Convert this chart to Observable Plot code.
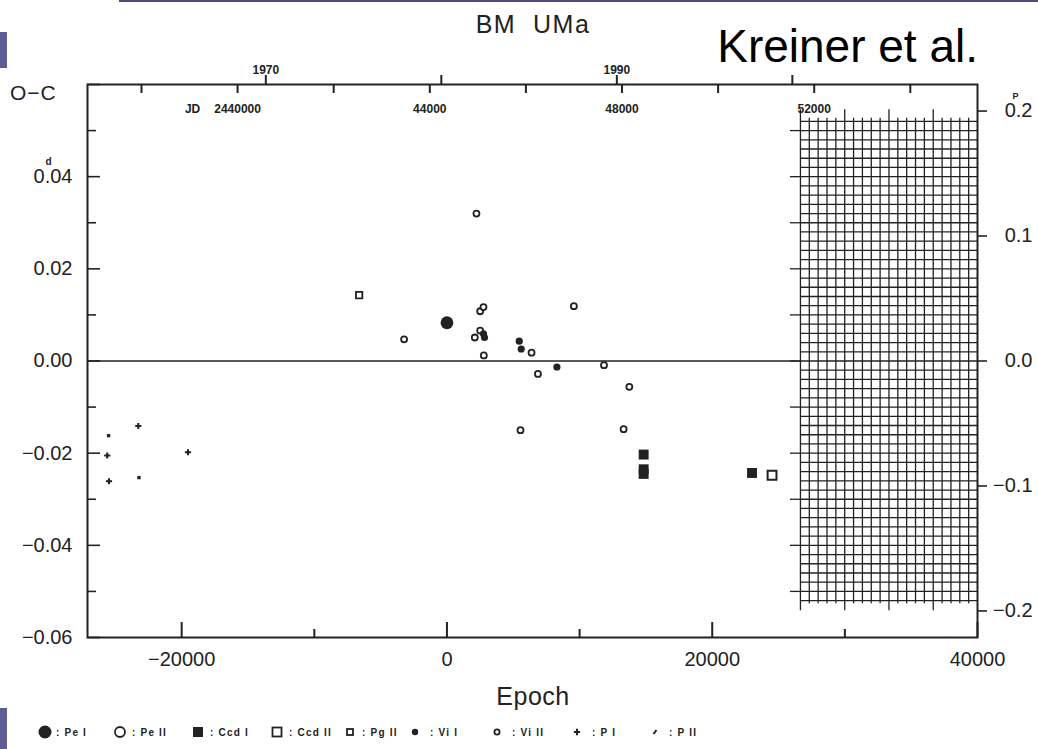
<!DOCTYPE html>
<html><head><meta charset="utf-8">
<script src="https://cdn.jsdelivr.net/npm/d3@7"></script>
<script src="https://cdn.jsdelivr.net/npm/@observablehq/plot@0.6"></script>
<style>
html,body{margin:0;padding:0;background:#fff;}
#chart{position:relative;width:1038px;height:749px;overflow:hidden;}
</style></head><body><div id="chart"></div>
<script>
// ---------- data (epoch, O-C in days) ----------
const peIEpoch = [0];
const peIOC = [0.0083];
const viIIEpoch = [-3230, 2224, 2505, 2755, 2505, 2100, 2780, 6380, 6860, 11840, 9570, 13750, 5545, 13320];
const viIIOC = [0.0047, 0.0320, 0.0108, 0.0117, 0.0066, 0.0051, 0.0012, 0.0018, -0.0028, -0.0009, 0.0119, -0.0056, -0.0150, -0.0148];
const viIEpoch = [2755, 2830, 5450, 5600, 8290];
const viIOC = [0.0059, 0.0051, 0.0043, 0.0026, -0.0013];
const pgIIEpoch = [-6620];
const pgIIOC = [0.0143];
const ccdIEpoch = [14830, 14830, 14830, 23000];
const ccdIOC = [-0.0203, -0.0235, -0.0245, -0.0243];
const ccdIIEpoch = [24510];
const ccdIIOC = [-0.0248];
const pIEpoch = [-23270, -25610, -19525, -25480];
const pIOC = [-0.0141, -0.0205, -0.0198, -0.0261];
const pIIEpoch = [-25510, -23220];
const pIIOC = [-0.0162, -0.0253];

// ---------- ticks / labels ----------
const xMajor = [-20000, 0, 20000, 40000];
const xMajorLabels = ["\u221220000", "0", "20000", "40000"];
const xMinor = [-10000, 10000, 30000];
const yMajor = [-0.06, -0.04, -0.02, 0, 0.02, 0.04, 0.06];
const yMinor = [-0.05, -0.03, -0.01, 0.01, 0.03, 0.05];
const yLabelVals = [-0.06, -0.04, -0.02, 0, 0.02, 0.04];
const yLabels = ["\u22120.06", "\u22120.04", "\u22120.02", "0.00", "0.02", "0.04"];
const phaseVals = [-0.2, -0.1, 0, 0.1, 0.2];
const phaseLabels = ["\u22120.2", "\u22120.1", "0.0", "0.1", "0.2"];
const jdTicks = [38000, 40000, 42000, 44000, 46000, 48000, 50000, 52000, 54000];
const jdLabelVals = [40000, 44000, 48000, 52000];
const jdLabels = ["2440000", "44000", "48000", "52000"];
const yearTicks = [1970, 1980, 1990, 2000];
const yearLabelVals = [1970, 1990];
const yearLabels = ["1970", "1990"];

const PERIOD = 0.2712;           // days, for phase axis
const JD0 = 44357, DPE = 0.27603; // JD-2400000 of epoch 0, days per epoch (as drawn)
const epochOfJD = jd => (jd - JD0) / DPE;
const epochOfYear = y => epochOfJD(40587.5 + (y - 1970) * 365.25);

// decorative overlay grid (right part of the frame)
const gridX0 = 26651, gridX1 = 40000;
const gridStep = (gridX1 - gridX0) / 20;
const gridCols = d3.range(21).map(i => gridX0 + i * gridStep);
const gridColsShort = gridCols.filter((d, i) => i % 5 !== 0);
const gridColsTall = gridCols.filter((d, i) => i % 5 === 0 && i < 20);
const gridRows = d3.range(-26, 27).map(i => i * 0.002);
const gridTicks = d3.range(-5, 6).map(i => i * 0.01);

const ink = "#222";
const FW = 890, FH = 553; // frame size in px

const svg = Plot.plot({
  width: 1038, height: 749,
  marginLeft: 87, marginRight: 61, marginTop: 84, marginBottom: 112,
  x: {domain: [-27100, 40000], axis: null},
  y: {domain: [-0.06, 0.06], axis: null},
  style: {fontFamily: "'Liberation Sans', Arial, sans-serif", background: "white", color: ink, overflow: "visible"},
  marks: [
    // overlay grid
    Plot.ruleX(gridColsShort, {x: d => d, y1: -0.0527, y2: 0.0527, stroke: ink, strokeWidth: 1.3}),
    Plot.ruleX(gridColsTall, {x: d => d, y1: -0.0542, y2: 0.0545, stroke: ink, strokeWidth: 1.3}),
    Plot.ruleY(gridRows, {y: d => d, x1: gridX0, x2: gridX1, stroke: ink, strokeWidth: 1.3}),
    Plot.ruleY(gridTicks, {y: d => d, x1: gridX0 - 754, x2: gridX0, stroke: ink, strokeWidth: 1.3}),
    // zero line
    Plot.ruleY([0], {x1: -27100, x2: gridX0, stroke: ink, strokeWidth: 1.5}),
    // frame + ticks
    Plot.frame({stroke: ink, strokeWidth: 2}),
    Plot.tickY(yMajor, {insetRight: FW - 13, stroke: ink, strokeWidth: 1.6}),
    Plot.tickY(yMinor, {insetRight: FW - 9, stroke: ink, strokeWidth: 1.6}),
    Plot.tickX(xMajor, {insetTop: FH - 15, stroke: ink, strokeWidth: 2}),
    Plot.tickX(xMinor, {insetTop: FH - 8, stroke: ink, strokeWidth: 2}),
    Plot.tickX(jdTicks.map(epochOfJD), {insetBottom: FH - 9, stroke: ink, strokeWidth: 2}),
    Plot.tickX(yearTicks.map(epochOfYear), {insetTop: -9, insetBottom: FH, stroke: ink, strokeWidth: 2}),
    Plot.tickY(phaseVals.map(p => p * PERIOD), {insetLeft: FW, insetRight: -10, stroke: ink, strokeWidth: 1.6}),
    // tick labels
    Plot.text(yLabelVals, {y: d => d, text: (d, i) => yLabels[i], frameAnchor: "left", textAnchor: "end", dx: -15, fontSize: 20, fill: ink}),
    Plot.text([{y: 0.04, t: "d"}], {y: "y", text: "t", frameAnchor: "left", dx: -42, dy: -15, fontSize: 10, fontWeight: "bold", fill: ink}),
    Plot.text(phaseVals, {y: d => d * PERIOD, text: (d, i) => phaseLabels[i], frameAnchor: "right", textAnchor: "end", dx: 55, fontSize: 20, fill: ink}),
    Plot.text([{y: 0.2 * PERIOD, t: "P"}], {y: "y", text: "t", frameAnchor: "right", dx: 41, dy: -15, fontSize: 9, fontWeight: "bold", fill: ink}),
    Plot.text(xMajor, {x: d => d, text: (d, i) => xMajorLabels[i], frameAnchor: "bottom", dy: 28, fontSize: 20, fill: ink}),
    Plot.text(jdLabelVals, {x: d => epochOfJD(d), text: (d, i) => jdLabels[i], frameAnchor: "top", dy: 20, fontSize: 12, fontWeight: "bold", fill: ink}),
    Plot.text([{x: epochOfJD(40000), t: "JD"}], {x: "x", text: "t", frameAnchor: "top", dy: 20, dx: -45, fontSize: 12, fontWeight: "bold", fill: ink}),
    Plot.text(yearLabelVals, {x: d => epochOfYear(d), text: (d, i) => yearLabels[i], frameAnchor: "top", dy: -19, fontSize: 12, fontWeight: "bold", fill: ink}),
    // data
    Plot.dot(pIIEpoch, {x: d => d, y: (d, i) => pIIOC[i], symbol: "square", r: 1.9, fill: ink}),
    Plot.dot(pIEpoch, {x: d => d, y: (d, i) => pIOC[i], symbol: "cross", r: 2.6, fill: ink}),
    Plot.dot(pgIIEpoch, {x: d => d, y: (d, i) => pgIIOC[i], symbol: "square", r: 3.6, fill: "white", stroke: ink, strokeWidth: 1.8}),
    Plot.dot(ccdIEpoch, {x: d => d, y: (d, i) => ccdIOC[i], symbol: "square", r: 5.6, fill: ink}),
    Plot.dot(ccdIIEpoch, {x: d => d, y: (d, i) => ccdIIOC[i], symbol: "square", r: 5, fill: "white", stroke: ink, strokeWidth: 2}),
    Plot.dot(peIEpoch, {x: d => d, y: (d, i) => peIOC[i], r: 6.4, fill: ink}),
    Plot.dot(viIIEpoch, {x: d => d, y: (d, i) => viIIOC[i], r: 3, fill: "white", stroke: ink, strokeWidth: 1.8}),
    Plot.dot(viIEpoch, {x: d => d, y: (d, i) => viIOC[i], r: 3.6, fill: ink})
  ]
});

// ---------- decorations, titles, legend ----------
const s = d3.select(svg);
const font = "'Liberation Sans', Arial, sans-serif";
s.append("rect").attr("x", 119).attr("y", 0).attr("width", 919).attr("height", 2).attr("fill", "#4d4d7d");
s.append("rect").attr("x", 0).attr("y", 32).attr("width", 7).attr("height", 36).attr("fill", "#5e5e94");
s.append("rect").attr("x", 0).attr("y", 708).attr("width", 7).attr("height", 41).attr("fill", "#5e5e94");

function txt(x, y, t, size, opts = {}) {
  const e = s.append("text").attr("x", x).attr("y", y).text(t)
    .attr("font-family", font).attr("font-size", size).attr("fill", opts.fill || ink)
    .attr("text-anchor", opts.anchor || "start");
  if (opts.weight) e.attr("font-weight", opts.weight);
  if (opts.ls) e.attr("letter-spacing", opts.ls);
  return e;
}
txt(533, 33, "BM\u00a0\u00a0UMa", 25, {anchor: "middle", ls: 1.5});
txt(978, 62, "Kreiner et al.", 46, {anchor: "end", fill: "#000"});
txt(10, 100, "O\u2212C", 21, {ls: 1});
txt(533, 705, "Epoch", 25, {anchor: "middle", ls: 0.5});

const legend = [
  {x: 45, sym: "circle", r: 6.5, fill: true, label: ": Pe I", tx: 56},
  {x: 120, sym: "circle", r: 5, fill: false, label: ": Pe II", tx: 132},
  {x: 198, sym: "square", side: 10, fill: true, label: ": Ccd I", tx: 210},
  {x: 277, sym: "square", side: 9, fill: false, label: ": Ccd II", tx: 289},
  {x: 350, sym: "square", side: 6, fill: false, label: ": Pg II", tx: 362},
  {x: 415, sym: "circle", r: 3.2, fill: true, label: ": Vi I", tx: 430},
  {x: 497, sym: "circle", r: 2.6, fill: false, label: ": Vi II", tx: 512},
  {x: 577, sym: "plus", label: ": P I", tx: 592},
  {x: 655, sym: "prime", label: ": P II", tx: 669}
];
const ly = 732;
legend.forEach(it => {
  if (it.sym === "circle") {
    s.append("circle").attr("cx", it.x).attr("cy", ly).attr("r", it.r)
      .attr("fill", it.fill ? ink : "white").attr("stroke", ink).attr("stroke-width", it.fill ? 0 : 1.8);
  } else if (it.sym === "square") {
    s.append("rect").attr("x", it.x - it.side / 2).attr("y", ly - it.side / 2)
      .attr("width", it.side).attr("height", it.side)
      .attr("fill", it.fill ? ink : "white").attr("stroke", it.fill ? "none" : ink).attr("stroke-width", 1.8);
  } else if (it.sym === "plus") {
    s.append("path").attr("transform", `translate(${it.x},${ly})`)
      .attr("d", d3.symbol(d3.symbolCross, 22)()).attr("fill", ink);
  } else {
    s.append("path").attr("d", `M${it.x - 1.5},${ly + 2}L${it.x + 1.5},${ly - 2}`)
      .attr("stroke", ink).attr("stroke-width", 2);
  }
  txt(it.tx, ly + 3.5, it.label, 10, {weight: "bold", ls: 1.2});
});

document.getElementById("chart").appendChild(svg);
</script>
</body></html>
